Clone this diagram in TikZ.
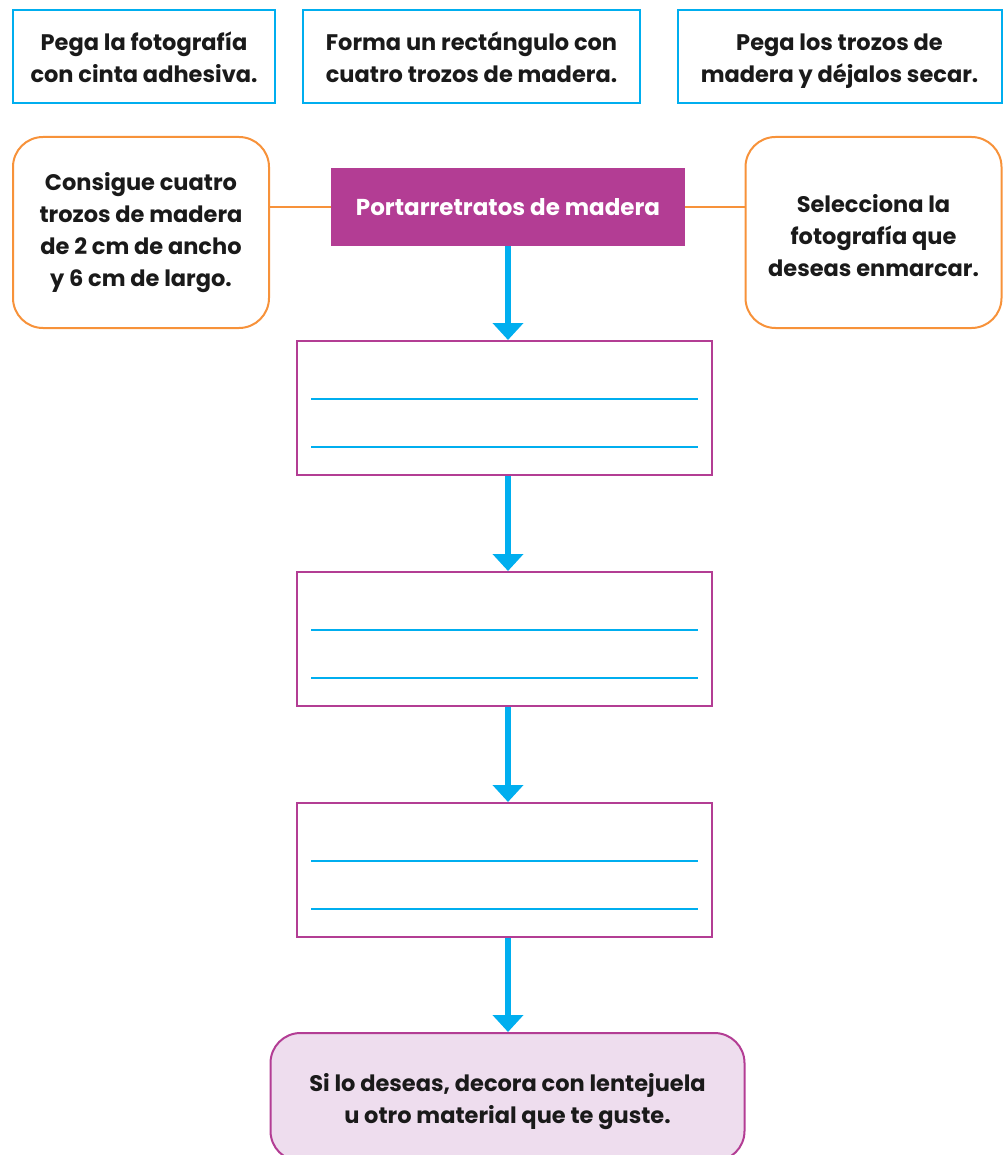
\documentclass[tikz,border=0pt]{standalone}
\usepackage{fontspec}
\setmainfont{Poppins}
\usetikzlibrary{arrows.meta}
\definecolor{cblue}{HTML}{00AEEF}
\definecolor{corange}{HTML}{F7923A}
\definecolor{cpurple}{HTML}{B33D94}
\definecolor{cpink}{HTML}{EEDDEE}
\definecolor{ctext}{HTML}{1A1A1A}
\newcommand\ls{\rule[-9.6pt]{0pt}{32pt}}
\newcommand\lf[1]{\rule[-9.6pt]{0pt}{\dimexpr32pt+#1pt+#1pt\relax}}
\begin{document}
\begin{tikzpicture}[x=1pt,y=-1pt,
  txt/.style={font=\fontsize{22.5}{32}\selectfont\bfseries, text=ctext, align=center, inner sep=0pt},
  bluebox/.style={txt, draw=cblue, line width=2pt, minimum height=93pt},
  orbox/.style={txt, draw=corange, line width=2pt, rounded corners=30pt, minimum width=256pt, minimum height=191pt},
  titlebox/.style={txt, fill=cpurple, text=white, font=\fontsize{23}{32}\selectfont\bfseries, minimum width=354pt, minimum height=78pt},
  emptybox/.style={draw=cpurple, line width=2pt, minimum width=415pt, minimum height=134pt, inner sep=0pt},
  endbox/.style={txt, draw=cpurple, fill=cpink, line width=2pt, rounded corners=30pt, minimum width=474pt, minimum height=128pt},
  wline/.style={draw=cblue, line width=2pt},
  flow/.style={draw=cblue, line width=5.5pt, -{Triangle[width=30pt,length=17pt]}},
  link/.style={draw=corange, line width=2pt}]
\useasboundingbox (0,0) rectangle (1003,1155);
\node[bluebox, minimum width=262pt] (t1) at (144,57) {\lf{3}Pega la fotografía\\\ls con cinta adhesiva.};
\node[bluebox, minimum width=337pt] (t2) at (471.5,57) {\lf{3}Forma un rectángulo con\\\ls cuatro trozos de madera.};
\node[bluebox, minimum width=324pt] (t3) at (839.5,57) {\lf{3}Pega los trozos de\\\ls madera y déjalos secar.};
\node[orbox] (l) at (141,232.5) {\ls Consigue cuatro\\\ls trozos de madera\\\ls de 2 cm de ancho\\\ls y 6 cm de largo.};
\node[orbox] (r) at (873.5,232.5) {\lf{6}Selecciona la\\\ls fotografía que\\\ls deseas enmarcar.};
\node[titlebox] (title) at (508,207) {Portarretratos de madera};
\node[emptybox] (b1) at (504.5,408) {};
\node[emptybox] (b2) at (504.5,639) {};
\node[emptybox] (b3) at (504.5,870) {};
\node[endbox] (e) at (507.5,1097) {\lf{4}Si lo deseas, decora con lentejuela\\\ls u otro material que te guste.};
\draw[link] (title.west) -- (title.west -| l.east);
\draw[link] (title.east) -- (title.east -| r.west);
\foreach \b in {b1,b2,b3}{
  \draw[wline] ([xshift=15pt,yshift=9pt]\b.west) -- ([xshift=-15pt,yshift=9pt]\b.east);
  \draw[wline] ([xshift=15pt,yshift=-39pt]\b.west) -- ([xshift=-15pt,yshift=-39pt]\b.east);
}
\draw[flow] (title.south) -- (title.south |- b1.north);
\draw[flow] (title.south |- b1.south) -- (title.south |- b2.north);
\draw[flow] (title.south |- b2.south) -- (title.south |- b3.north);
\draw[flow] (title.south |- b3.south) -- (title.south |- e.north);
\end{tikzpicture}
\end{document}
